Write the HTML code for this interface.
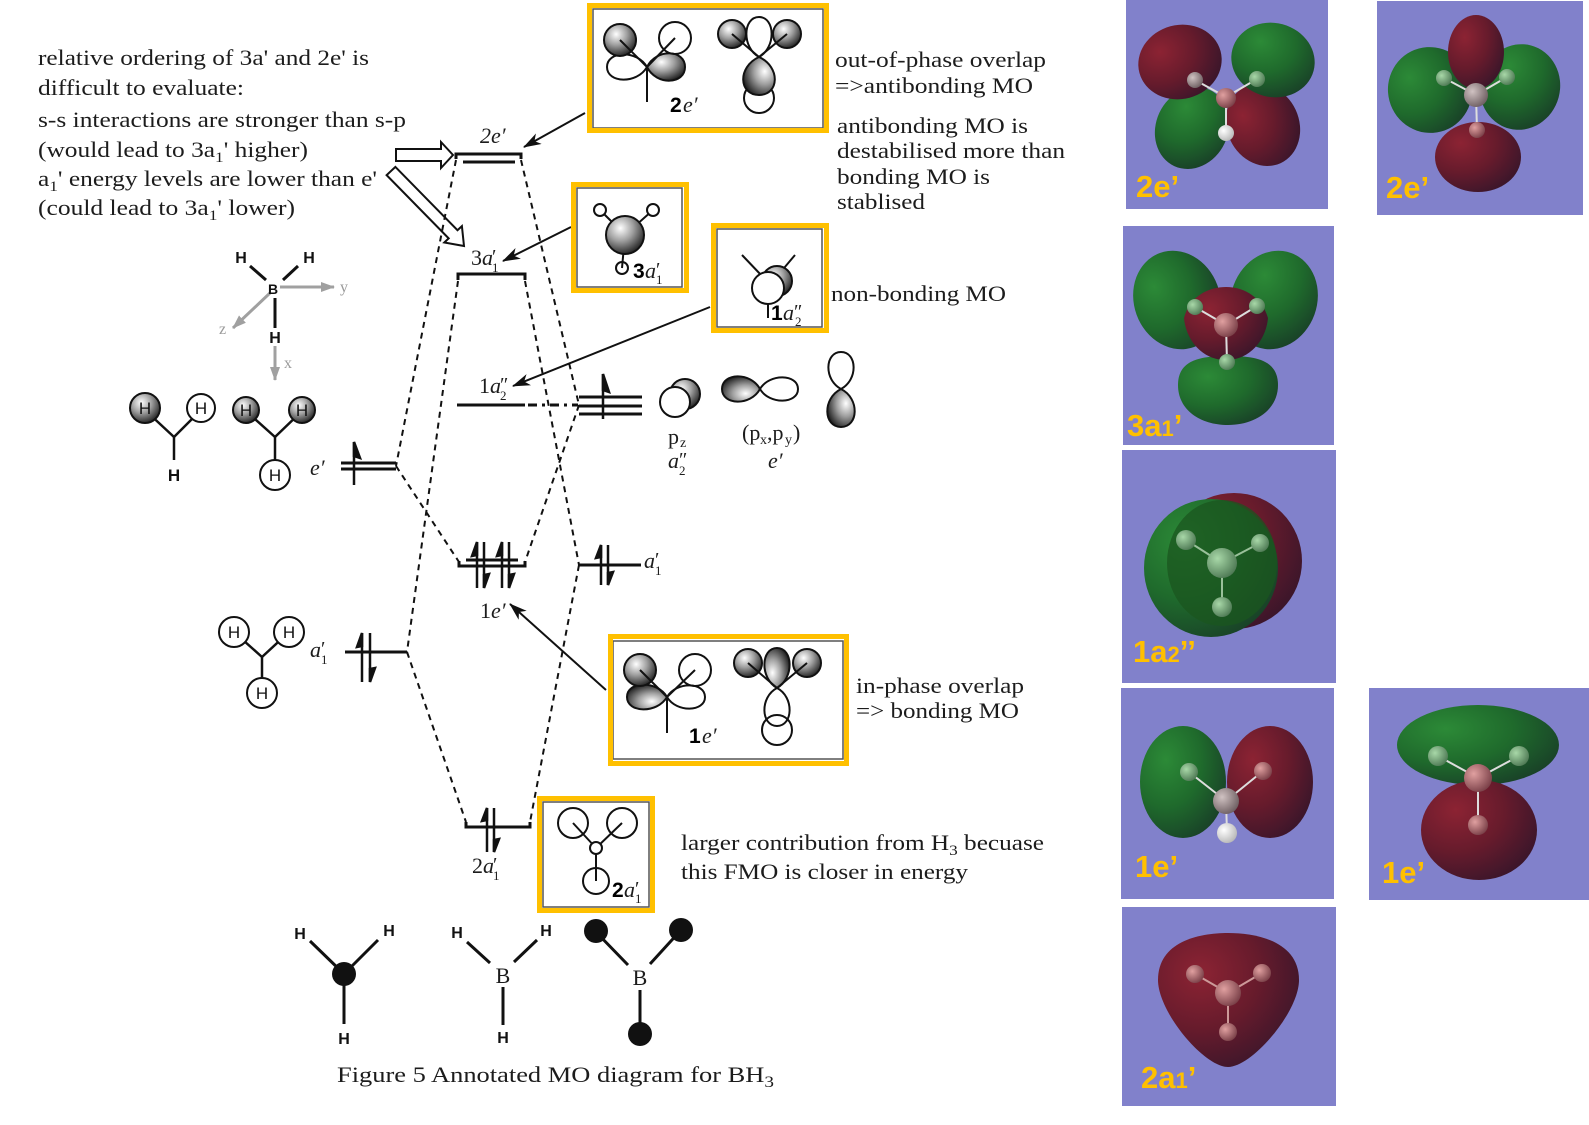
<!DOCTYPE html>
<html><head><meta charset="utf-8">
<style>
html,body{margin:0;padding:0;background:#fff;}
svg{display:block;}
.t{font-family:"Liberation Serif",serif;font-size:22px;fill:#1c1c1c;}
.it{font-family:"Liberation Serif",serif;font-style:italic;font-size:22px;fill:#1c1c1c;}
.pr{font-family:"Liberation Serif",serif;font-size:20px;fill:#1c1c1c;}
.sb{font-family:"Liberation Serif",serif;font-size:13px;fill:#1c1c1c;}
.sz{font-family:"Liberation Serif",serif;font-size:14px;fill:#1c1c1c;}
.hs{font-family:"Liberation Sans",sans-serif;font-size:17px;fill:#111;}
.hb{font-family:"Liberation Sans",sans-serif;font-weight:bold;font-size:16px;fill:#111;}
.bn{font-family:"Liberation Sans",sans-serif;font-weight:bold;font-size:21px;fill:#000;}
.lab{font-family:"Liberation Sans",sans-serif;font-weight:bold;font-size:31px;fill:#FFC000;}
.gr{font-family:"Liberation Serif",serif;font-size:16px;fill:#9a9a9a;}
</style></head><body>
<svg width="1589" height="1125" viewBox="0 0 1589 1125" xmlns="http://www.w3.org/2000/svg">
<defs>
 <radialGradient id="sh" cx="0.38" cy="0.32" r="0.75"><stop offset="0" stop-color="#ffffff"/><stop offset="0.45" stop-color="#a0a0a0"/><stop offset="1" stop-color="#151515"/></radialGradient>
 <radialGradient id="rd" cx="0.3" cy="0.3" r="0.85"><stop offset="0" stop-color="#8c2333"/><stop offset="0.5" stop-color="#661b2c"/><stop offset="1" stop-color="#33152a"/></radialGradient>
 <radialGradient id="gn" cx="0.3" cy="0.3" r="0.85"><stop offset="0" stop-color="#2c8a37"/><stop offset="0.5" stop-color="#1f6a2c"/><stop offset="1" stop-color="#183a27"/></radialGradient>
 <radialGradient id="at" cx="0.35" cy="0.35" r="0.7"><stop offset="0" stop-color="#d0c2c2"/><stop offset="1" stop-color="#6e5f62"/></radialGradient>
 <radialGradient id="atg" cx="0.35" cy="0.35" r="0.7"><stop offset="0" stop-color="#a8d8a8"/><stop offset="1" stop-color="#4f7a55"/></radialGradient>
 <radialGradient id="atr" cx="0.35" cy="0.35" r="0.7"><stop offset="0" stop-color="#e0a0a0"/><stop offset="1" stop-color="#7a4048"/></radialGradient>
 <radialGradient id="atw" cx="0.35" cy="0.35" r="0.7"><stop offset="0" stop-color="#ffffff"/><stop offset="1" stop-color="#b8b8b8"/></radialGradient>
 <marker id="ah" markerWidth="18" markerHeight="12" refX="17" refY="6" orient="auto" markerUnits="userSpaceOnUse"><path d="M0,0 L18,6 L0,12 L5,6Z" fill="#111"/></marker>
 <marker id="gah" markerWidth="14" markerHeight="10" refX="13" refY="5" orient="auto" markerUnits="userSpaceOnUse"><path d="M0,0 L14,5 L0,10Z" fill="#a0a0a0"/></marker>
</defs>

<!-- ============ LEFT TEXT ============ -->
<text class="t" x="38" y="65" textLength="331" lengthAdjust="spacingAndGlyphs">relative ordering of 3a' and 2e' is</text>
<text class="t" x="38" y="95" textLength="206" lengthAdjust="spacingAndGlyphs">difficult to evaluate:</text>
<text class="t" x="38" y="127" textLength="368" lengthAdjust="spacingAndGlyphs">s-s interactions are stronger than s-p</text>
<text class="t" x="38" y="157" textLength="270" lengthAdjust="spacingAndGlyphs">(would lead to 3a<tspan style="font-size:15px" dy="5">1</tspan><tspan dy="-5">' higher)</tspan></text>
<text class="t" x="38" y="186" textLength="339" lengthAdjust="spacingAndGlyphs">a<tspan style="font-size:15px" dy="5">1</tspan><tspan dy="-5">' energy levels are lower than e'</tspan></text>
<text class="t" x="38" y="215" textLength="257" lengthAdjust="spacingAndGlyphs">(could lead to 3a<tspan style="font-size:15px" dy="5">1</tspan><tspan dy="-5">' lower)</tspan></text>

<!-- hollow arrows -->
<polygon points="396,149 441,149 441,142 453,155 441,168 441,161 396,161" fill="#fff" stroke="#111" stroke-width="2"/>
<polygon points="395.4,166.9 457.5,230.2 461.9,226.1 464,246 444.3,242.5 448.7,238.4 386.6,175.1" fill="#fff" stroke="#111" stroke-width="2"/>

<!-- ============ RIGHT TEXT ============ -->
<text class="t" x="835" y="67" textLength="211" lengthAdjust="spacingAndGlyphs">out-of-phase overlap</text>
<text class="t" x="835" y="93" textLength="198" lengthAdjust="spacingAndGlyphs">=&gt;antibonding MO</text>
<text class="t" x="837" y="133" textLength="191" lengthAdjust="spacingAndGlyphs">antibonding MO is</text>
<text class="t" x="837" y="158" textLength="228" lengthAdjust="spacingAndGlyphs">destabilised more than</text>
<text class="t" x="837" y="184" textLength="153" lengthAdjust="spacingAndGlyphs">bonding MO is</text>
<text class="t" x="837" y="209" textLength="88" lengthAdjust="spacingAndGlyphs">stablised</text>
<text class="t" x="831" y="301" textLength="175" lengthAdjust="spacingAndGlyphs">non-bonding MO</text>
<text class="t" x="856" y="693" textLength="168" lengthAdjust="spacingAndGlyphs">in-phase overlap</text>
<text class="t" x="856" y="718" textLength="163" lengthAdjust="spacingAndGlyphs">=&gt; bonding MO</text>
<text class="t" x="681" y="850" textLength="363" lengthAdjust="spacingAndGlyphs">larger contribution from H<tspan style="font-size:15px" dy="5">3</tspan><tspan dy="-5"> becuase</tspan></text>
<text class="t" x="681" y="879" textLength="287" lengthAdjust="spacingAndGlyphs">this FMO is closer in energy</text>
<text class="t" x="337" y="1082" textLength="437" lengthAdjust="spacingAndGlyphs">Figure 5 Annotated MO diagram for BH<tspan style="font-size:16px" dy="5">3</tspan></text>

<!-- ============ ENERGY LEVELS ============ -->
<g stroke="#111" fill="none" stroke-width="3">
 <path d="M456,159 L456,154 L521,154 L521,159"/>
 <line x1="463" y1="162" x2="515" y2="162"/>
 <path d="M458,280 L458,274 L525,274 L525,280"/>
 <line x1="457" y1="405" x2="525" y2="405"/>
 <line x1="466" y1="560" x2="518" y2="560"/>
 <path d="M459,561 L459,566 L525,566 L525,561"/>
 <path d="M466,822 L466,827 L530,827 L530,822"/>
 <line x1="341" y1="463" x2="396" y2="463"/>
 <line x1="341" y1="469" x2="396" y2="469"/>
 <line x1="345" y1="652" x2="407" y2="652"/>
 <line x1="579" y1="397" x2="642" y2="397"/>
 <line x1="579" y1="406" x2="642" y2="406"/>
 <line x1="579" y1="414" x2="642" y2="414"/>
 <line x1="579" y1="565" x2="641" y2="565"/>
</g>
<line x1="528" y1="405" x2="578" y2="405" stroke="#111" stroke-width="3" stroke-dasharray="9,5,3,5"/>

<!-- dashed correlation lines -->
<g stroke="#111" stroke-width="2" stroke-dasharray="6,5" fill="none">
 <line x1="456" y1="160" x2="396" y2="466"/>
 <line x1="396" y1="466" x2="459" y2="562"/>
 <line x1="458" y1="281" x2="407" y2="652"/>
 <line x1="407" y1="652" x2="466" y2="822"/>
 <line x1="521" y1="160" x2="579" y2="405"/>
 <line x1="579" y1="405" x2="525" y2="562"/>
 <line x1="525" y1="281" x2="579" y2="565"/>
 <line x1="579" y1="565" x2="530" y2="822"/>
</g>

<!-- electron harpoons -->
<g stroke="#111" stroke-width="2.5" fill="#111">
 <line x1="354" y1="442" x2="354" y2="485"/><polygon points="354,442 360,458 354,456"/>
 <line x1="603" y1="374" x2="603" y2="419"/><polygon points="603,374 609,392 603,390"/>
 <line x1="477" y1="542" x2="477" y2="588"/><polygon points="477,542 472,556 477,555"/>
 <line x1="484" y1="542" x2="484" y2="588"/><polygon points="484,588 489,574 484,575"/>
 <line x1="502" y1="542" x2="502" y2="588"/><polygon points="502,542 497,556 502,555"/>
 <line x1="509" y1="542" x2="509" y2="588"/><polygon points="509,588 514,574 509,575"/>
 <line x1="601" y1="545" x2="601" y2="585"/><polygon points="601,545 596,558 601,557"/>
 <line x1="608" y1="545" x2="608" y2="585"/><polygon points="608,585 613,572 608,573"/>
 <line x1="362" y1="633" x2="362" y2="682"/><polygon points="362,633 357,647 362,646"/>
 <line x1="370" y1="633" x2="370" y2="682"/><polygon points="370,682 375,668 370,669"/>
 <line x1="487" y1="808" x2="487" y2="852"/><polygon points="487,808 482,821 487,820"/>
 <line x1="494" y1="808" x2="494" y2="852"/><polygon points="494,852 499,839 494,840"/>
</g>

<!-- level labels -->
<text class="it" x="480" y="143">2e′</text>
<text class="t" x="471" y="265">3<tspan style="font-style:italic">a</tspan></text>
<text class="pr" x="492" y="263">′</text>
<text class="sb" x="492" y="272">1</text>
<text class="t" x="479" y="393">1<tspan style="font-style:italic">a</tspan></text>
<text class="pr" x="500" y="391">″</text>
<text class="sb" x="500" y="400">2</text>
<text class="t" x="480" y="618">1<tspan style="font-style:italic">e′</tspan></text>
<text class="t" x="472" y="873">2<tspan style="font-style:italic">a</tspan></text>
<text class="pr" x="493" y="871">′</text>
<text class="sb" x="493" y="880">1</text>
<text class="it" x="310" y="475">e′</text>
<text class="it" x="310" y="657">a</text>
<text class="pr" x="321" y="655">′</text>
<text class="sb" x="321" y="664">1</text>
<text class="it" x="644" y="568">a</text>
<text class="pr" x="655" y="566">′</text>
<text class="sb" x="655" y="575">1</text>

<!-- B orbitals -->
<circle cx="685" cy="394" r="15" fill="url(#sh)" stroke="#111" stroke-width="2"/>
<circle cx="675" cy="402" r="15" fill="#fff" stroke="#111" stroke-width="2"/>
<g stroke="#111" stroke-width="2">
 <path transform="translate(760,389) rotate(180)" d="M0,0 C9.5,-17.4 38,-16.2 38,0 C38,16.2 9.5,17.4 0,0Z" fill="url(#sh)"/>
 <path transform="translate(760,389)" d="M0,0 C9.5,-16 38,-15 38,0 C38,15 9.5,16 0,0Z" fill="none"/>
 <path transform="translate(841,389) rotate(-90)" d="M0,0 C9.3,-17.4 37,-16.2 37,0 C37,16.2 9.3,17.4 0,0Z" fill="none"/>
 <path transform="translate(841,389) rotate(90)" d="M0,0 C9.5,-18.9 38,-17.6 38,0 C38,17.6 9.5,18.9 0,0Z" fill="url(#sh)"/>
</g>
<text class="t" x="668" y="444">p</text><text class="sz" x="680" y="447">z</text>
<text class="it" x="668" y="468">a</text>
<text class="pr" x="679" y="466">″</text>
<text class="sb" x="679" y="475">2</text>
<text class="t" x="742" y="440">(p</text><text class="sz" x="760" y="444">x</text><text class="t" x="767" y="440">,p</text><text class="sz" x="785" y="444">y</text><text class="t" x="793" y="440">)</text>
<text class="it" x="768" y="468">e′</text>

<!-- ============ CALLOUT ARROWS ============ -->
<g stroke="#111" stroke-width="2" marker-end="url(#ah)">
 <line x1="585" y1="113" x2="524" y2="147"/>
 <line x1="571" y1="227" x2="503" y2="261"/>
 <line x1="710" y1="307" x2="513" y2="386"/>
 <line x1="606" y1="690" x2="510" y2="604"/>
</g>

<!-- ============ BOXES ============ -->
<g fill="none" stroke="#555" stroke-width="1.5">
 <rect x="593" y="9" width="230" height="119"/>
 <rect x="577" y="188" width="105" height="99"/>
 <rect x="717" y="229" width="105" height="98"/>
 <rect x="613" y="641" width="230" height="118"/>
 <rect x="543" y="802" width="106" height="105"/>
</g>
<g fill="none" stroke="#FFC000" stroke-width="5">
 <rect x="589.5" y="5.5" width="237" height="125"/>
 <rect x="573.5" y="184.5" width="113" height="106"/>
 <rect x="713.5" y="225.5" width="113" height="105"/>
 <rect x="610.5" y="636.5" width="236" height="127"/>
 <rect x="539.5" y="798.5" width="113" height="112"/>
</g>

<!-- 2e' box drawings -->
<g stroke="#111" stroke-width="2">
 <path transform="translate(647,67) rotate(180)" d="M0,0 C10,-17.4 40,-16.2 40,0 C40,16.2 10,17.4 0,0Z" fill="none"/>
 <path transform="translate(647,67)" d="M0,0 C9.5,-18.9 38,-17.6 38,0 C38,17.6 9.5,18.9 0,0Z" fill="url(#sh)"/>
 <circle cx="620" cy="40" r="16" fill="url(#sh)"/>
 <circle cx="675" cy="38" r="16" fill="none"/>
 <line x1="620" y1="40" x2="647" y2="67"/>
 <line x1="675" y1="38" x2="647" y2="67"/>
 <line x1="647" y1="67" x2="647" y2="102"/>
 <path transform="translate(759,57) rotate(-90)" d="M0,0 C9.5,-17.4 40,-16.2 40,0 C40,16.2 9.5,17.4 0,0Z" fill="none"/>
 <circle cx="759" cy="98" r="15" fill="none"/>
 <path transform="translate(759,57) rotate(90)" d="M0,0 C10,-21.8 38,-20.3 38,0 C38,20.3 10,21.8 0,0Z" fill="url(#sh)"/>
 <circle cx="732" cy="34" r="14" fill="url(#sh)"/>
 <circle cx="787" cy="34" r="14" fill="url(#sh)"/>
 <line x1="732" y1="34" x2="759" y2="57"/>
 <line x1="787" y1="34" x2="759" y2="57"/>
</g>
<text class="bn" x="670" y="112">2</text><text class="it" x="683" y="112">e′</text>

<!-- 3a1' box -->
<g stroke="#111" stroke-width="2">
 <line x1="600" y1="210" x2="625" y2="235"/>
 <line x1="653" y1="210" x2="625" y2="235"/>
 <line x1="625" y1="235" x2="622" y2="268"/>
 <circle cx="625" cy="235" r="19" fill="url(#sh)"/>
 <circle cx="600" cy="210" r="6" fill="#fff"/>
 <circle cx="653" cy="210" r="6" fill="#fff"/>
 <circle cx="622" cy="268" r="6" fill="none"/>
</g>
<text class="bn" x="633" y="278">3</text><text class="it" x="645" y="278">a</text>
<text class="pr" x="656" y="276">′</text><text class="sb" x="656" y="284">1</text>

<!-- 1a2'' box -->
<g stroke="#111" stroke-width="2">
 <line x1="742" y1="255" x2="762" y2="276"/>
 <line x1="795" y1="255" x2="779" y2="274"/>
 <line x1="768" y1="303" x2="768" y2="318"/>
 <circle cx="777" cy="281" r="15" fill="url(#sh)"/>
 <circle cx="768" cy="288" r="16" fill="#fff"/>
</g>
<text class="bn" x="771" y="320">1</text><text class="it" x="783" y="320">a</text>
<text class="pr" x="794" y="318">″</text><text class="sb" x="795" y="326">2</text>

<!-- 1e' box -->
<g stroke="#111" stroke-width="2">
 <path transform="translate(667,697)" d="M0,0 C9.5,-16 38,-15 38,0 C38,15 9.5,16 0,0Z" fill="none"/>
 <path transform="translate(667,697) rotate(180)" d="M0,0 C10,-17 40,-16 40,0 C40,16 10,17 0,0Z" fill="url(#sh)"/>
 <circle cx="640" cy="670" r="16" fill="url(#sh)"/>
 <circle cx="695" cy="670" r="16" fill="none"/>
 <line x1="640" y1="670" x2="667" y2="697"/>
 <line x1="695" y1="670" x2="667" y2="697"/>
 <line x1="667" y1="697" x2="667" y2="733"/>
 <path transform="translate(777,688) rotate(90)" d="M0,0 C9,-17.4 38,-16.2 38,0 C38,16.2 9,17.4 0,0Z" fill="none"/>
 <circle cx="777" cy="730" r="15" fill="none"/>
 <path transform="translate(777,688) rotate(-90)" d="M0,0 C10,-17.4 40,-16.2 40,0 C40,16.2 10,17.4 0,0Z" fill="url(#sh)"/>
 <circle cx="748" cy="663" r="14" fill="url(#sh)"/>
 <circle cx="807" cy="663" r="14" fill="url(#sh)"/>
 <line x1="748" y1="663" x2="777" y2="688"/>
 <line x1="807" y1="663" x2="777" y2="688"/>
</g>
<text class="bn" x="689" y="743">1</text><text class="it" x="702" y="743">e′</text>

<!-- 2a1' box -->
<g stroke="#111" stroke-width="2" fill="none">
 <line x1="573" y1="823" x2="596" y2="848"/>
 <line x1="622" y1="823" x2="596" y2="848"/>
 <line x1="596" y1="854" x2="596" y2="881"/>
 <circle cx="573" cy="823" r="15"/>
 <circle cx="622" cy="823" r="15"/>
 <circle cx="596" cy="848" r="6" fill="#fff"/>
 <circle cx="596" cy="881" r="13"/>
</g>
<text class="bn" x="612" y="897">2</text><text class="it" x="624" y="897">a</text>
<text class="pr" x="635" y="895">′</text><text class="sb" x="635" y="903">1</text>

<!-- ============ AXIS DIAGRAM ============ -->
<g stroke="#111" stroke-width="3">
 <line x1="250" y1="266" x2="266" y2="280"/>
 <line x1="298" y1="266" x2="283" y2="280"/>
 <line x1="275" y1="298" x2="275" y2="328"/>
</g>
<g stroke="#a0a0a0" stroke-width="3">
 <line x1="280" y1="287" x2="334" y2="287" marker-end="url(#gah)"/>
 <line x1="270" y1="293" x2="233" y2="328" marker-end="url(#gah)"/>
 <line x1="275" y1="346" x2="275" y2="380" marker-end="url(#gah)"/>
</g>
<text class="hb" x="241" y="263" text-anchor="middle">H</text>
<text class="hb" x="309" y="263" text-anchor="middle">H</text>
<text class="hb" x="273" y="294" text-anchor="middle" style="font-size:14px">B</text>
<text class="hb" x="275" y="343" text-anchor="middle">H</text>
<text class="gr" x="340" y="292">y</text>
<text class="gr" x="219" y="334">z</text>
<text class="gr" x="284" y="368">x</text>

<!-- ============ H3 FRAGMENTS ============ -->
<g stroke="#111" stroke-width="2.5">
 <line x1="145" y1="410" x2="174" y2="437"/>
 <line x1="201" y1="410" x2="174" y2="437"/>
 <line x1="174" y1="437" x2="174" y2="460"/>
 <line x1="246" y1="411" x2="275" y2="437"/>
 <line x1="302" y1="411" x2="275" y2="437"/>
 <line x1="275" y1="437" x2="275" y2="461"/>
 <line x1="234" y1="632" x2="262" y2="657"/>
 <line x1="289" y1="632" x2="262" y2="657"/>
 <line x1="262" y1="657" x2="262" y2="680"/>
</g>
<g stroke="#111" stroke-width="2">
 <circle cx="145" cy="408" r="15" fill="url(#sh)"/>
 <circle cx="201" cy="408" r="14" fill="#fff"/>
 <circle cx="246" cy="410" r="13" fill="url(#sh)"/>
 <circle cx="302" cy="410" r="13" fill="url(#sh)"/>
 <circle cx="275" cy="475" r="15" fill="#fff"/>
 <circle cx="234" cy="632" r="15" fill="#fff"/>
 <circle cx="289" cy="632" r="15" fill="#fff"/>
 <circle cx="262" cy="693" r="15" fill="#fff"/>
</g>
<g class="hs" text-anchor="middle">
 <text x="145" y="414">H</text>
 <text x="201" y="414">H</text>
 <text x="174" y="481" style="font-weight:bold">H</text>
 <text x="246" y="416">H</text>
 <text x="302" y="416">H</text>
 <text x="275" y="481">H</text>
 <text x="234" y="638">H</text>
 <text x="289" y="638">H</text>
 <text x="262" y="699">H</text>
</g>

<!-- ============ BOTTOM MOLECULES ============ -->
<g stroke="#111" stroke-width="3">
 <line x1="310" y1="941" x2="344" y2="974"/>
 <line x1="378" y1="940" x2="344" y2="974"/>
 <line x1="344" y1="974" x2="344" y2="1024"/>
 <line x1="467" y1="942" x2="490" y2="963"/>
 <line x1="537" y1="940" x2="514" y2="962"/>
 <line x1="503" y1="987" x2="503" y2="1025"/>
 <line x1="596" y1="932" x2="628" y2="965"/>
 <line x1="681" y1="930" x2="650" y2="964"/>
 <line x1="640" y1="990" x2="640" y2="1034"/>
</g>
<circle cx="344" cy="974" r="12" fill="#111"/>
<circle cx="596" cy="931" r="12" fill="#111"/>
<circle cx="681" cy="930" r="12" fill="#111"/>
<circle cx="640" cy="1034" r="12" fill="#111"/>
<g class="hb" text-anchor="middle">
 <text x="300" y="939">H</text>
 <text x="389" y="936">H</text>
 <text x="344" y="1044">H</text>
 <text x="457" y="938">H</text>
 <text x="546" y="936">H</text>
 <text x="503" y="1043">H</text>
</g>
<text class="t" x="503" y="983" text-anchor="middle">B</text>
<text class="t" x="640" y="985" text-anchor="middle">B</text>

<!-- ============ RIGHT PANELS ============ -->
<g>
 <rect x="1126" y="0" width="202" height="209" fill="#8181CB"/>
 <ellipse cx="1192" cy="128" rx="36" ry="42" fill="url(#gn)" transform="rotate(25 1192 128)"/>
 <ellipse cx="1263" cy="125" rx="36" ry="42" fill="url(#rd)" transform="rotate(-25 1263 125)"/>
 <ellipse cx="1180" cy="62" rx="42" ry="37" fill="url(#rd)" transform="rotate(-15 1180 62)"/>
 <ellipse cx="1273" cy="60" rx="42" ry="37" fill="url(#gn)" transform="rotate(15 1273 60)"/>
 <g stroke="#ddd" stroke-width="2"><line x1="1195" y1="80" x2="1226" y2="97"/><line x1="1257" y1="79" x2="1226" y2="97"/><line x1="1226" y1="97" x2="1226" y2="133"/></g>
 <circle cx="1195" cy="80" r="8" fill="url(#at)"/>
 <circle cx="1257" cy="79" r="8" fill="url(#atg)"/>
 <circle cx="1226" cy="98" r="10" fill="url(#atr)"/>
 <circle cx="1226" cy="133" r="8" fill="url(#atw)"/>
 <text class="lab" x="1136" y="197">2e’</text>

 <rect x="1377" y="1" width="206" height="214" fill="#8181CB"/>
 <ellipse cx="1430" cy="90" rx="42" ry="43" fill="url(#gn)" transform="rotate(-15 1430 90)"/>
 <ellipse cx="1520" cy="87" rx="40" ry="43" fill="url(#gn)" transform="rotate(15 1520 87)"/>
 <ellipse cx="1476" cy="52" rx="28" ry="37" fill="url(#rd)"/>
 <ellipse cx="1478" cy="157" rx="43" ry="35" fill="url(#rd)"/>
 <g stroke="#ddd" stroke-width="2"><line x1="1444" y1="78" x2="1476" y2="95"/><line x1="1507" y1="77" x2="1476" y2="95"/><line x1="1476" y1="95" x2="1477" y2="130"/></g>
 <circle cx="1444" cy="78" r="8" fill="url(#atg)"/>
 <circle cx="1507" cy="77" r="8" fill="url(#atg)"/>
 <circle cx="1476" cy="95" r="12" fill="url(#at)"/>
 <circle cx="1477" cy="130" r="8" fill="url(#atr)"/>
 <text class="lab" x="1386" y="198">2e’</text>

 <rect x="1123" y="226" width="211" height="219" fill="#8181CB"/>
 <ellipse cx="1177" cy="300" rx="43" ry="50" fill="url(#gn)" transform="rotate(-20 1177 300)"/>
 <ellipse cx="1274" cy="300" rx="43" ry="50" fill="url(#gn)" transform="rotate(20 1274 300)"/>
 <path d="M1178,385 C1178,360 1200,356 1228,356 C1256,356 1278,360 1278,385 C1278,410 1255,425 1228,425 C1200,425 1178,410 1178,385Z" fill="url(#gn)"/>
 <path d="M1184,318 C1190,295 1210,287 1226,287 C1245,287 1262,298 1268,318 C1266,340 1250,360 1226,360 C1202,360 1186,340 1184,318Z" fill="url(#rd)"/>
 <g stroke="#ddd" stroke-width="2"><line x1="1195" y1="307" x2="1226" y2="325"/><line x1="1257" y1="306" x2="1226" y2="325"/><line x1="1226" y1="325" x2="1227" y2="362"/></g>
 <circle cx="1195" cy="307" r="8" fill="url(#atg)"/>
 <circle cx="1257" cy="306" r="8" fill="url(#atg)"/>
 <circle cx="1226" cy="325" r="12" fill="url(#atr)"/>
 <circle cx="1227" cy="362" r="8" fill="url(#atg)"/>
 <text class="lab" x="1127" y="436">3a<tspan style="font-size:22px">1</tspan>’</text>

 <rect x="1122" y="450" width="214" height="233" fill="#8181CB"/>
 <circle cx="1234" cy="561" r="68" fill="url(#rd)"/>
 <ellipse cx="1211" cy="568" rx="67" ry="69" fill="url(#gn)"/>
 <ellipse cx="1222" cy="563" rx="55" ry="63" fill="#1b561f" opacity="0.75"/>
 <g stroke="#9ac09a" stroke-width="2"><line x1="1186" y1="540" x2="1222" y2="563"/><line x1="1260" y1="543" x2="1222" y2="563"/><line x1="1222" y1="563" x2="1222" y2="607"/></g>
 <circle cx="1186" cy="540" r="10" fill="url(#atg)"/>
 <circle cx="1260" cy="543" r="9" fill="url(#atg)"/>
 <circle cx="1222" cy="563" r="15" fill="url(#atg)"/>
 <circle cx="1222" cy="607" r="10" fill="url(#atg)"/>
 <text class="lab" x="1133" y="662">1a<tspan style="font-size:22px">2</tspan>’’</text>

 <rect x="1121" y="688" width="213" height="211" fill="#8181CB"/>
 <ellipse cx="1183" cy="782" rx="43" ry="56" fill="url(#gn)"/>
 <ellipse cx="1270" cy="782" rx="43" ry="56" fill="url(#rd)"/>
 <g stroke="#ddd" stroke-width="2"><line x1="1189" y1="772" x2="1226" y2="801"/><line x1="1263" y1="771" x2="1226" y2="801"/><line x1="1226" y1="801" x2="1227" y2="833"/></g>
 <circle cx="1189" cy="772" r="9" fill="url(#atg)"/>
 <circle cx="1263" cy="771" r="9" fill="url(#atr)"/>
 <circle cx="1226" cy="801" r="13" fill="url(#at)"/>
 <circle cx="1227" cy="833" r="10" fill="url(#atw)"/>
 <text class="lab" x="1135" y="877">1e’</text>

 <rect x="1369" y="688" width="220" height="212" fill="#8181CB"/>
 <ellipse cx="1478" cy="745" rx="81" ry="40" fill="url(#gn)"/>
 <ellipse cx="1479" cy="830" rx="58" ry="50" fill="url(#rd)"/>
 <g stroke="#ddd" stroke-width="2"><line x1="1438" y1="756" x2="1478" y2="778"/><line x1="1519" y1="756" x2="1478" y2="778"/><line x1="1478" y1="778" x2="1478" y2="825"/></g>
 <circle cx="1438" cy="756" r="10" fill="url(#atg)"/>
 <circle cx="1519" cy="756" r="10" fill="url(#atg)"/>
 <circle cx="1478" cy="778" r="14" fill="url(#atr)"/>
 <circle cx="1478" cy="825" r="10" fill="url(#atr)"/>
 <text class="lab" x="1382" y="883">1e’</text>

 <rect x="1122" y="907" width="214" height="199" fill="#8181CB"/>
 <path d="M1158,980 C1158,942 1198,933 1228,933 C1258,933 1299,942 1299,980 C1299,1012 1252,1067 1228,1067 C1204,1067 1158,1012 1158,980Z" fill="url(#rd)"/>
 <g stroke="#c99" stroke-width="2"><line x1="1195" y1="974" x2="1228" y2="993"/><line x1="1262" y1="973" x2="1228" y2="993"/><line x1="1228" y1="993" x2="1228" y2="1032"/></g>
 <circle cx="1195" cy="974" r="9" fill="url(#atr)"/>
 <circle cx="1262" cy="973" r="9" fill="url(#atr)"/>
 <circle cx="1228" cy="993" r="13" fill="url(#atr)"/>
 <circle cx="1228" cy="1032" r="9" fill="url(#atr)"/>
 <text class="lab" x="1141" y="1088">2a<tspan style="font-size:22px">1</tspan>’</text>
</g>
</svg>
</body></html>
